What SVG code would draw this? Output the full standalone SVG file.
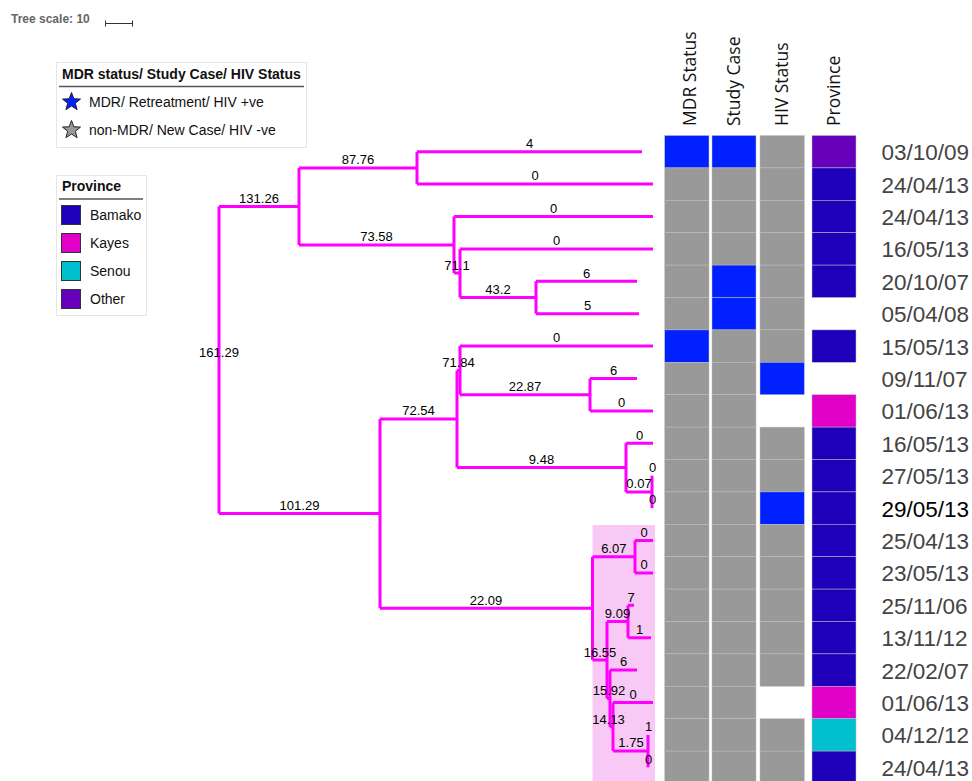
<svg xmlns="http://www.w3.org/2000/svg" width="972" height="781" viewBox="0 0 972 781">
<style>
.br{fill:none;stroke:#ff00ff;stroke-width:3;}
.bl{font-family:"Liberation Sans",Arial,sans-serif;font-size:13px;fill:#000;text-anchor:middle;}
.lg{font-family:"Liberation Sans",Arial,sans-serif;font-size:14px;fill:#111;}
.lgt{font-family:"Liberation Sans",Arial,sans-serif;font-size:14px;font-weight:bold;fill:#111;}
.hd{font-family:"Open Sans","DejaVu Sans",sans-serif;font-size:17.5px;fill:#111;}
.dt{font-family:"Liberation Sans",Arial,sans-serif;font-size:22.5px;fill:#444;}
.c{stroke:#bdbdbd;stroke-width:0.5;}
.b{fill:#0020ff;}
.g{fill:#999999;}
.bam{fill:#1e00bb;}
.kay{fill:#e100c8;}
.sen{fill:#00c0d0;}
.oth{fill:#6600bb;}
.box{fill:#fff;stroke:#e6e6e6;stroke-width:1;}
</style>
<defs>
<polygon id="star" points="0,-9.5 2.35,-3.2 9.0,-2.95 3.8,1.25 5.6,7.7 0,4 -5.6,7.7 -3.8,1.25 -9.0,-2.95 -2.35,-3.2" stroke="#222" stroke-width="1"/>
</defs>
<rect width="972" height="781" fill="#fff"/>

<g id="tree-scale">
<text x="11" y="23" style="font-family:'Liberation Sans',Arial,sans-serif;font-size:12px;font-weight:bold;fill:#666;">Tree scale: 10</text>
<path d="M105,23.5 H133 M105.5,20.5 V26.5 M132.5,20.5 V26.5" stroke="#333" stroke-width="1" fill="none"/>
</g>

<g id="legend-status">
<rect class="box" x="56.5" y="62.5" width="250" height="85"/>
<text class="lgt" x="62" y="79">MDR status/ Study Case/ HIV Status</text>
<line x1="59" y1="86.5" x2="304" y2="86.5" stroke="#555" stroke-width="1.5"/>
<use href="#star" x="71.5" y="102" fill="#0022ff"/>
<text class="lg" x="89" y="107">MDR/ Retreatment/ HIV +ve</text>
<use href="#star" x="71.5" y="130" fill="#999999"/>
<text class="lg" x="89" y="135">non-MDR/ New Case/ HIV -ve</text>
</g>

<g id="legend-province">
<rect class="box" x="56.5" y="175.5" width="90" height="140"/>
<text class="lgt" x="62" y="191">Province</text>
<line x1="59" y1="199" x2="143" y2="199" stroke="#555" stroke-width="1.5"/>
<rect class="bam" x="61.5" y="205.5" width="19" height="19" stroke="#333" stroke-width="1"/>
<text class="lg" x="90" y="220">Bamako</text>
<rect class="kay" x="61.5" y="233.5" width="19" height="19" stroke="#333" stroke-width="1"/>
<text class="lg" x="90" y="248">Kayes</text>
<rect class="sen" x="61.5" y="261.5" width="19" height="19" stroke="#333" stroke-width="1"/>
<text class="lg" x="90" y="276">Senou</text>
<rect class="oth" x="61.5" y="289.5" width="19" height="19" stroke="#333" stroke-width="1"/>
<text class="lg" x="90" y="304">Other</text>
</g>

<rect id="highlight" x="592.5" y="525" width="62.5" height="256" fill="#f8c9f5"/>

<g id="connectors">
<path class="br" d="M219,206.5 V513.5 M219,206.5 H299 M219,513.5 H380"/>
<path class="br" d="M299,168 V245 M299,168 H417 M299,245 H454"/>
<path class="br" d="M417,151.7 V184.1 M417,151.7 H642 M417,184.1 H653"/>
<path class="br" d="M454,216.5 V273 M454,216.5 H653 M454,273 H460"/>
<path class="br" d="M460,248.9 V297.5 M460,248.9 H653 M460,297.5 H536"/>
<path class="br" d="M536,281.3 V313.7 M536,281.3 H637 M536,313.7 H639"/>
<path class="br" d="M380,419 V608.3 M380,419 H457 M380,608.3 H592.5"/>
<path class="br" d="M457,370.4 V467.6 M457,370.4 H460 M457,467.6 H626"/>
<path class="br" d="M460,346.1 V394.7 M460,346.1 H653 M460,394.7 H590"/>
<path class="br" d="M590,378.5 V410.9 M590,378.5 H637 M590,410.9 H653"/>
<path class="br" d="M626,443.3 V491.9 M626,443.3 H653 M626,491.9 H652"/>
<path class="br" d="M652,475.7 V508.1"/>
<path class="br" d="M592.5,556.7 V660 M592.5,556.7 H635 M592.5,660 H607"/>
<path class="br" d="M635,540.5 V572.9 M635,540.5 H653 M635,572.9 H653"/>
<path class="br" d="M607,621.5 V698.5 M607,621.5 H628 M607,698.5 H610"/>
<path class="br" d="M628,605.3 V637.7 M628,605.3 H634 M628,637.7 H651"/>
<path class="br" d="M610,670.1 V726.8 M610,670.1 H637 M610,726.8 H613"/>
<path class="br" d="M613,702.5 V751.1 M613,702.5 H653 M613,751.1 H648"/>
<path class="br" d="M648,734.9 V767.3"/>
</g>

<g id="branch-labels">
<text class="bl" x="529.5" y="148">4</text>
<text class="bl" x="535" y="180.4">0</text>
<text class="bl" x="358" y="164">87.76</text>
<text class="bl" x="259" y="202.5">131.26</text>
<text class="bl" x="553.5" y="212.8">0</text>
<text class="bl" x="376.5" y="241">73.58</text>
<text class="bl" x="556.5" y="245">0</text>
<text class="bl" x="457" y="269.5">71.1</text>
<text class="bl" x="586.5" y="277.6">6</text>
<text class="bl" x="498" y="293.8">43.2</text>
<text class="bl" x="587.5" y="310">5</text>
<text class="bl" x="219" y="357">161.29</text>
<text class="bl" x="299.5" y="509.8">101.29</text>
<text class="bl" x="556.5" y="342.4">0</text>
<text class="bl" x="458.5" y="366.7">71.84</text>
<text class="bl" x="525" y="391">22.87</text>
<text class="bl" x="613.5" y="374.8">6</text>
<text class="bl" x="621.5" y="407.2">0</text>
<text class="bl" x="418.5" y="415.3">72.54</text>
<text class="bl" x="541.5" y="463.9">9.48</text>
<text class="bl" x="639.5" y="439.6">0</text>
<text class="bl" x="639" y="488.2">0.07</text>
<text class="bl" x="652.5" y="472">0</text>
<text class="bl" x="652.5" y="504.4">0</text>
<text class="bl" x="486" y="604.6">22.09</text>
<text class="bl" x="613.8" y="553">6.07</text>
<text class="bl" x="644" y="536.8">0</text>
<text class="bl" x="644" y="569.2">0</text>
<text class="bl" x="600" y="656.5">16.55</text>
<text class="bl" x="617.5" y="617.8">9.09</text>
<text class="bl" x="631" y="601.6">7</text>
<text class="bl" x="639.5" y="634">1</text>
<text class="bl" x="609" y="694.8">15.92</text>
<text class="bl" x="623.5" y="666.4">6</text>
<text class="bl" x="608.5" y="723.5">14.13</text>
<text class="bl" x="633" y="698.8">0</text>
<text class="bl" x="631" y="747.4">1.75</text>
<text class="bl" x="648.5" y="731.2">1</text>
<text class="bl" x="648.5" y="763.6">0</text>
</g>

<g id="headers">
<text class="hd" transform="translate(696,126) rotate(-90)">MDR Status</text>
<text class="hd" transform="translate(740,126) rotate(-90)">Study Case</text>
<text class="hd" transform="translate(788,126) rotate(-90)">HIV Status</text>
<text class="hd" transform="translate(840,126) rotate(-90)">Province</text>
</g>

<g id="col-mdr">
<rect class="c b" x="664.7" y="135.5" width="44.3" height="32.4"/>
<rect class="c g" x="664.7" y="167.9" width="44.3" height="32.4"/>
<rect class="c g" x="664.7" y="200.3" width="44.3" height="32.4"/>
<rect class="c g" x="664.7" y="232.7" width="44.3" height="32.4"/>
<rect class="c g" x="664.7" y="265.1" width="44.3" height="32.4"/>
<rect class="c g" x="664.7" y="297.5" width="44.3" height="32.4"/>
<rect class="c b" x="664.7" y="329.9" width="44.3" height="32.4"/>
<rect class="c g" x="664.7" y="362.3" width="44.3" height="32.4"/>
<rect class="c g" x="664.7" y="394.7" width="44.3" height="32.4"/>
<rect class="c g" x="664.7" y="427.1" width="44.3" height="32.4"/>
<rect class="c g" x="664.7" y="459.5" width="44.3" height="32.4"/>
<rect class="c g" x="664.7" y="491.9" width="44.3" height="32.4"/>
<rect class="c g" x="664.7" y="524.3" width="44.3" height="32.4"/>
<rect class="c g" x="664.7" y="556.7" width="44.3" height="32.4"/>
<rect class="c g" x="664.7" y="589.1" width="44.3" height="32.4"/>
<rect class="c g" x="664.7" y="621.5" width="44.3" height="32.4"/>
<rect class="c g" x="664.7" y="653.9" width="44.3" height="32.4"/>
<rect class="c g" x="664.7" y="686.3" width="44.3" height="32.4"/>
<rect class="c g" x="664.7" y="718.7" width="44.3" height="32.4"/>
<rect class="c g" x="664.7" y="751.1" width="44.3" height="32.4"/>
</g>

<g id="col-study">
<rect class="c b" x="712" y="135.5" width="44" height="32.4"/>
<rect class="c g" x="712" y="167.9" width="44" height="32.4"/>
<rect class="c g" x="712" y="200.3" width="44" height="32.4"/>
<rect class="c g" x="712" y="232.7" width="44" height="32.4"/>
<rect class="c b" x="712" y="265.1" width="44" height="32.4"/>
<rect class="c b" x="712" y="297.5" width="44" height="32.4"/>
<rect class="c g" x="712" y="329.9" width="44" height="32.4"/>
<rect class="c g" x="712" y="362.3" width="44" height="32.4"/>
<rect class="c g" x="712" y="394.7" width="44" height="32.4"/>
<rect class="c g" x="712" y="427.1" width="44" height="32.4"/>
<rect class="c g" x="712" y="459.5" width="44" height="32.4"/>
<rect class="c g" x="712" y="491.9" width="44" height="32.4"/>
<rect class="c g" x="712" y="524.3" width="44" height="32.4"/>
<rect class="c g" x="712" y="556.7" width="44" height="32.4"/>
<rect class="c g" x="712" y="589.1" width="44" height="32.4"/>
<rect class="c g" x="712" y="621.5" width="44" height="32.4"/>
<rect class="c g" x="712" y="653.9" width="44" height="32.4"/>
<rect class="c g" x="712" y="686.3" width="44" height="32.4"/>
<rect class="c g" x="712" y="718.7" width="44" height="32.4"/>
<rect class="c g" x="712" y="751.1" width="44" height="32.4"/>
</g>

<g id="col-hiv">
<rect class="c g" x="760" y="135.5" width="44.3" height="32.4"/>
<rect class="c g" x="760" y="167.9" width="44.3" height="32.4"/>
<rect class="c g" x="760" y="200.3" width="44.3" height="32.4"/>
<rect class="c g" x="760" y="232.7" width="44.3" height="32.4"/>
<rect class="c g" x="760" y="265.1" width="44.3" height="32.4"/>
<rect class="c g" x="760" y="297.5" width="44.3" height="32.4"/>
<rect class="c g" x="760" y="329.9" width="44.3" height="32.4"/>
<rect class="c b" x="760" y="362.3" width="44.3" height="32.4"/>
<rect class="c g" x="760" y="427.1" width="44.3" height="32.4"/>
<rect class="c g" x="760" y="459.5" width="44.3" height="32.4"/>
<rect class="c b" x="760" y="491.9" width="44.3" height="32.4"/>
<rect class="c g" x="760" y="524.3" width="44.3" height="32.4"/>
<rect class="c g" x="760" y="556.7" width="44.3" height="32.4"/>
<rect class="c g" x="760" y="589.1" width="44.3" height="32.4"/>
<rect class="c g" x="760" y="621.5" width="44.3" height="32.4"/>
<rect class="c g" x="760" y="653.9" width="44.3" height="32.4"/>
<rect class="c g" x="760" y="718.7" width="44.3" height="32.4"/>
<rect class="c g" x="760" y="751.1" width="44.3" height="32.4"/>
</g>

<g id="col-province">
<rect class="c oth" x="812" y="135.5" width="44" height="32.4"/>
<rect class="c bam" x="812" y="167.9" width="44" height="32.4"/>
<rect class="c bam" x="812" y="200.3" width="44" height="32.4"/>
<rect class="c bam" x="812" y="232.7" width="44" height="32.4"/>
<rect class="c bam" x="812" y="265.1" width="44" height="32.4"/>
<rect class="c bam" x="812" y="329.9" width="44" height="32.4"/>
<rect class="c kay" x="812" y="394.7" width="44" height="32.4"/>
<rect class="c bam" x="812" y="427.1" width="44" height="32.4"/>
<rect class="c bam" x="812" y="459.5" width="44" height="32.4"/>
<rect class="c bam" x="812" y="491.9" width="44" height="32.4"/>
<rect class="c bam" x="812" y="524.3" width="44" height="32.4"/>
<rect class="c bam" x="812" y="556.7" width="44" height="32.4"/>
<rect class="c bam" x="812" y="589.1" width="44" height="32.4"/>
<rect class="c bam" x="812" y="621.5" width="44" height="32.4"/>
<rect class="c bam" x="812" y="653.9" width="44" height="32.4"/>
<rect class="c kay" x="812" y="686.3" width="44" height="32.4"/>
<rect class="c sen" x="812" y="718.7" width="44" height="32.4"/>
<rect class="c bam" x="812" y="751.1" width="44" height="32.4"/>
</g>

<g id="leaf-dates">
<text class="dt" x="881.5" y="160.2">03/10/09</text>
<text class="dt" x="881.5" y="192.6">24/04/13</text>
<text class="dt" x="881.5" y="225">24/04/13</text>
<text class="dt" x="881.5" y="257.4">16/05/13</text>
<text class="dt" x="881.5" y="289.8">20/10/07</text>
<text class="dt" x="881.5" y="322.2">05/04/08</text>
<text class="dt" x="881.5" y="354.6">15/05/13</text>
<text class="dt" x="881.5" y="387">09/11/07</text>
<text class="dt" x="881.5" y="419.4">01/06/13</text>
<text class="dt" x="881.5" y="451.8">16/05/13</text>
<text class="dt" x="881.5" y="484.2">27/05/13</text>
<text class="dt" x="881.5" y="516.6" style="fill:#000">29/05/13</text>
<text class="dt" x="881.5" y="549">25/04/13</text>
<text class="dt" x="881.5" y="581.4">23/05/13</text>
<text class="dt" x="881.5" y="613.8">25/11/06</text>
<text class="dt" x="881.5" y="646.2">13/11/12</text>
<text class="dt" x="881.5" y="678.6">22/02/07</text>
<text class="dt" x="881.5" y="711">01/06/13</text>
<text class="dt" x="881.5" y="743.4">04/12/12</text>
<text class="dt" x="881.5" y="775.8">24/04/13</text>
</g>
</svg>
